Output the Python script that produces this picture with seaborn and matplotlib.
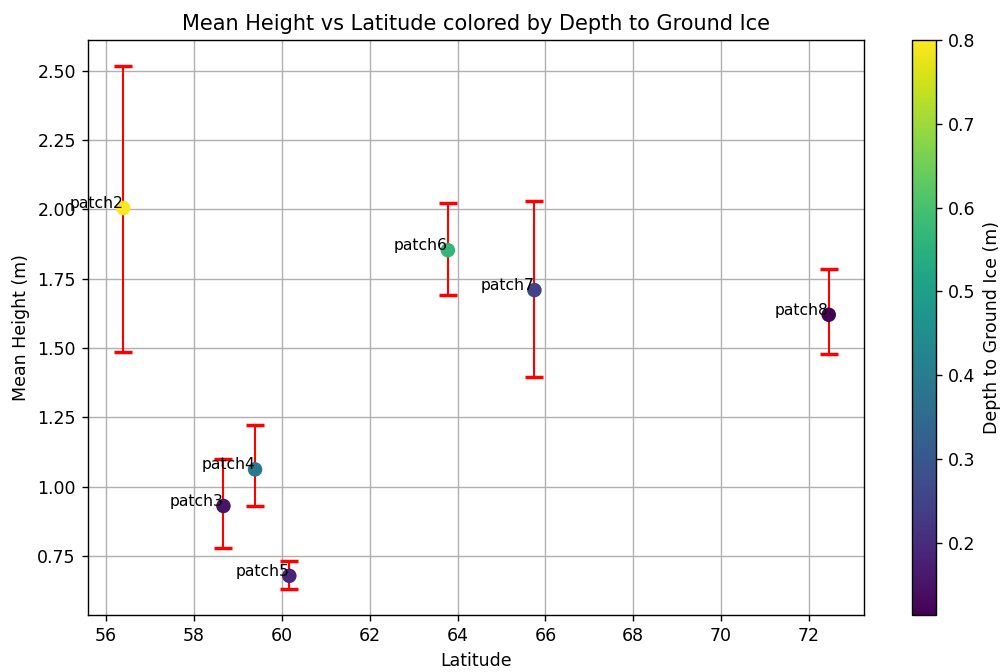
import matplotlib
matplotlib.use("Agg")
import matplotlib.pyplot as plt
import seaborn as sns
import numpy as np
import pandas as pd
from matplotlib.colors import Normalize
from matplotlib.cm import ScalarMappable

patches = ["patch2", "patch3", "patch4", "patch5", "patch6", "patch7", "patch8"]
latitude = [56.39, 58.67, 59.39, 60.17, 63.78, 65.75, 72.45]
mean_height = [2.005, 0.930, 1.062, 0.678, 1.853, 1.709, 1.620]
err_low = [0.520, 0.152, 0.132, 0.047, 0.163, 0.312, 0.140]
err_high = [0.512, 0.168, 0.160, 0.054, 0.170, 0.322, 0.165]
depth_ice = [0.80, 0.15, 0.39, 0.185, 0.565, 0.25, 0.114]

df = pd.DataFrame({"patch": patches, "lat": latitude, "height": mean_height,
                   "depth": depth_ice})

W, H, DPI = 1005, 672, 125
fig = plt.figure(figsize=(W / DPI, H / DPI), dpi=DPI)
ax = fig.add_axes([88 / W, 1 - 615 / H, (864 - 88) / W, (615 - 40) / H])
cax = fig.add_axes([912 / W, 1 - 615 / H, 24 / W, (615 - 40) / H])

ax.errorbar(df["lat"], df["height"], yerr=[err_low, err_high], fmt="none",
            ecolor="red", elinewidth=1.2, capsize=5, capthick=2, zorder=2)

norm = Normalize(vmin=min(depth_ice), vmax=max(depth_ice))
sns.scatterplot(data=df, x="lat", y="height", hue="depth", palette="viridis",
                hue_norm=norm, s=70, edgecolor="none", legend=False, ax=ax, zorder=3)

for p, x, y in zip(patches, latitude, mean_height):
    ax.text(x, y, p, fontsize=9, ha="right")

ax.set_xticks(np.arange(56, 73, 2))
ax.grid(True)
ax.set_axisbelow(True)
ax.set_xlabel("Latitude")
ax.set_ylabel("Mean Height (m)")
ax.set_title("Mean Height vs Latitude colored by Depth to Ground Ice")

sm = ScalarMappable(norm=norm, cmap="viridis")
cb = fig.colorbar(sm, cax=cax)
cb.set_label("Depth to Ground Ice (m)")

fig.savefig("out.png", dpi=DPI)
